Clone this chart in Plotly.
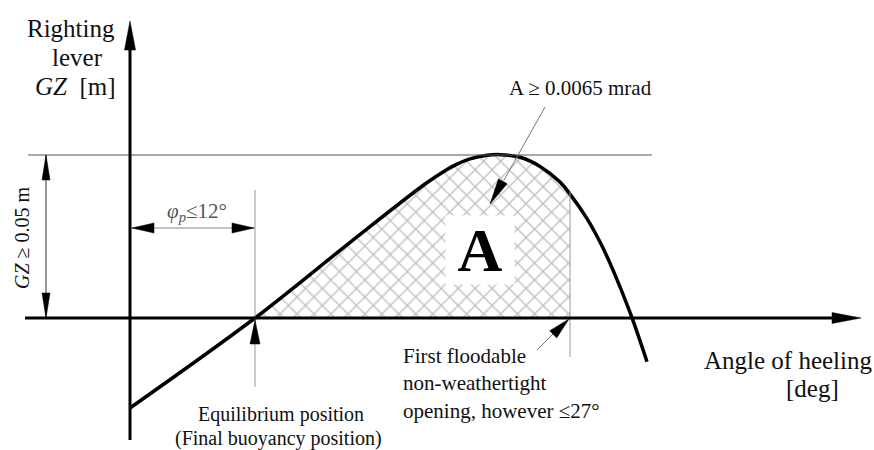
import plotly.graph_objects as go

# ---------------- data (schematic GZ curve) ----------------
angle_deg = [0.0, 12.0, 21.4, 28.32, 30.05, 31.39, 32.64, 34.27, 35.52, 37.44, 39.36, 41.28, 42.24,
             43.87, 45.12, 46.37, 48.0, 49.63]
gz_m = [-0.0276, 0.0, 0.0239, 0.0411, 0.0448, 0.0472, 0.0488, 0.0499, 0.0501, 0.0493, 0.0465, 0.0417, 0.0380,
        0.0305, 0.0233, 0.0147, 0.0017, -0.0134]
EQ_ANGLE = 12.0        # equilibrium position
FLOOD_ANGLE = 42.24    # first floodable opening
GZ_MIN = 0.05          # required GZ

# ---------------- geometry helpers ----------------
W, H = 874, 450
OX, OY = 130, 318          # pixel position of origin
PXD, PXM = 10.417, 3260.0  # px per degree, px per metre


def dx(px):
    return (px - OX) / PXD


def dy(py):
    return (OY - py) / PXM


def tri(tip_px, tip_py, from_px, from_py, L, hw):
    """Filled arrowhead (in data space) with tip at given pixel, pointing away from 'from'."""
    vx, vy = tip_px - from_px, tip_py - from_py
    n = (vx ** 2 + vy ** 2) ** 0.5
    ux, uy = vx / n, vy / n
    bx, by = tip_px - ux * L, tip_py - uy * L
    px1, py1 = bx - uy * hw, by + ux * hw
    px2, py2 = bx + uy * hw, by - ux * hw
    path = f"M {dx(tip_px)} {dy(tip_py)} L {dx(px1)} {dy(py1)} L {dx(px2)} {dy(py2)} Z"
    return dict(type="path", path=path, fillcolor="black", line=dict(color="black", width=0.5),
                xref="x", yref="y", layer="above")


def seg(x0, y0, x1, y1, color="#777", width=1):
    return dict(type="line", x0=x0, y0=y0, x1=x1, y1=y1, xref="x", yref="y",
                line=dict(color=color, width=width), layer="above")


FONT = "Liberation Serif, Times New Roman, serif"
SMOOTH = 1.0

fig = go.Figure()

# hatched area A (between the curve and the axis, from equilibrium to flooding angle)
fx = [a for a in angle_deg if EQ_ANGLE <= a <= FLOOD_ANGLE]
fy = [g for a, g in zip(angle_deg, gz_m) if EQ_ANGLE <= a <= FLOOD_ANGLE]
fig.add_trace(go.Scatter(
    x=fx, y=fy, mode="lines", fill="tozeroy",
    line=dict(width=0, color="rgba(0,0,0,0)", shape="spline", smoothing=SMOOTH), fillcolor="white",
    fillpattern=dict(shape="x", size=12, solidity=0.2, fgcolor="#7c7c7c", bgcolor="white"),
    hoverinfo="skip", showlegend=False))

# GZ curve
fig.add_trace(go.Scatter(x=angle_deg, y=gz_m, mode="lines",
                         line=dict(color="black", width=3.5, shape="spline", smoothing=SMOOTH),
                         hoverinfo="skip", showlegend=False))

shapes = []
# GZ level line and dimension
shapes.append(seg(dx(28), GZ_MIN, dx(652), GZ_MIN, color="#555", width=1))
shapes.append(seg(dx(46), GZ_MIN, dx(46), 0, color="#333", width=1))
shapes.append(tri(46, 155, 46, 200, 25, 4))
shapes.append(tri(46, 318, 46, 270, 25, 4))
# equilibrium vertical line
shapes.append(seg(EQ_ANGLE, dy(190), EQ_ANGLE, dy(387), color="#999", width=1))
shapes.append(tri(255, 320, 255, 360, 24, 5))
# flood vertical line
shapes.append(seg(FLOOD_ANGLE, dy(192), FLOOD_ANGLE, dy(357), color="#999", width=1))
# phi_p dimension
shapes.append(seg(0, dy(228), EQ_ANGLE, dy(228), color="#888", width=1))
shapes.append(tri(132, 228, 170, 228, 22, 5))
shapes.append(tri(254, 228, 210, 228, 22, 5))
# axes
shapes.append(seg(dx(25), 0, dx(836), 0, color="black", width=3))
shapes.append(tri(861, 318, 800, 318, 29, 5.5))
shapes.append(seg(0, dy(440), 0, dy(48), color="black", width=3))
shapes.append(tri(130, 21, 130, 80, 29, 5.5))
# leader for A
shapes.append(seg(dx(545), dy(107), dx(504), dy(180), color="#777", width=1))
shapes.append(tri(490, 204, 545, 107, 26, 5))
# leader for floodable opening
shapes.append(seg(dx(537), dy(350), dx(553), dy(334), color="#777", width=1))
shapes.append(tri(569, 319, 537, 350, 22, 5))

ann = []


def txt(px, py, s, size=18, color="#111", **kw):
    d = dict(x=dx(px), y=dy(py), text=s, showarrow=False, xref="x", yref="y",
             font=dict(family=FONT, size=size, color=color))
    d.update(kw)
    ann.append(d)


txt(71, 28, "Righting", 25)
txt(77, 57, "lever", 25)
txt(75, 86, "<i>GZ</i>  [m]", 25)
txt(22, 238, "<i>GZ</i> ≥ 0.05 m", 20, textangle=-90)
txt(197, 212, "<i>φ</i><sub><i>p</i></sub>≤12°", 21, color="#555")
txt(580, 88, "A ≥ 0.0065 mrad", 21)
txt(480, 250, "<b>A</b>", 62, color="black", bgcolor="white", width=66, height=66)
txt(401, 383, "First floodable<br>non-weathertight<br>opening, however ≤27°", 21,
    align="left", xanchor="left")
txt(788, 360, "Angle of heeling", 25)
txt(812, 388, "[deg]", 25)
txt(281, 414, "Equilibrium position", 20)
txt(278, 438, "(Final buoyancy position)", 20)

fig.update_layout(
    width=W, height=H, autosize=False,
    margin=dict(l=0, r=0, t=0, b=0),
    paper_bgcolor="white", plot_bgcolor="white",
    xaxis=dict(range=[dx(0), dx(W)], visible=False, fixedrange=True),
    yaxis=dict(range=[dy(H), dy(0)], visible=False, fixedrange=True),
    shapes=shapes, annotations=ann, showlegend=False,
)

fig.write_html("out.html", config={"displayModeBar": False},
               post_script="document.body.style.margin='0px';document.body.style.overflow='hidden';")
